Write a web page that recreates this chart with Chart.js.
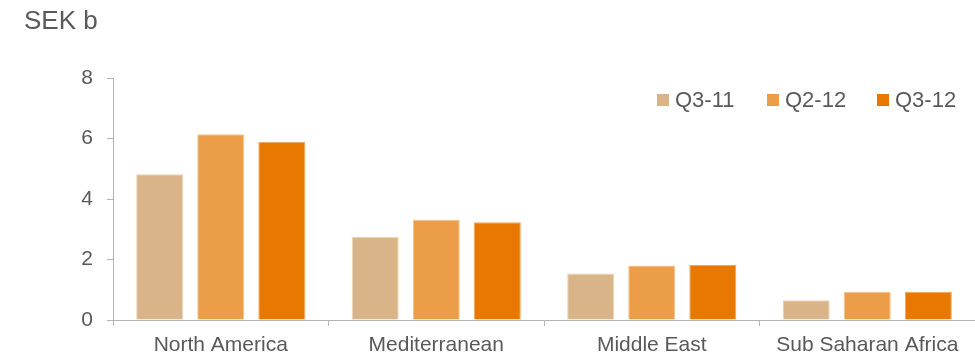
<!DOCTYPE html>
<html>
<head>
<meta charset="utf-8">
<script src="https://cdn.jsdelivr.net/npm/chart.js@4.4.0/dist/chart.umd.min.js"></script>
<style>
  html, body { margin: 0; padding: 0; background: #fff; overflow: hidden; }
  #wrap { width: 975px; height: 357px; position: relative; }
</style>
</head>
<body>
<div id="wrap"><canvas id="chart"></canvas></div>
<script>
// values (SEK b)
var regions = ['North America', 'Mediterranean', 'Middle East', 'Sub Saharan Africa'];
var q311 = [4.82, 2.74, 1.54, 0.65];
var q212 = [6.14, 3.31, 1.80, 0.93];
var q312 = [5.89, 3.23, 1.82, 0.93];
var seriesNames = ['Q3-11', 'Q2-12', 'Q3-12'];
var yTicks = [0, 2, 4, 6, 8];

var fontName = '"Liberation Sans", Arial, sans-serif';
var textColor = '#595959';
var axisColor = '#b3b3b3';

var fills = ['#d8b488', '#eb9d48', '#e87800'];
var edges = ['#ebd4b6', '#f5c28a', '#f3a552'];

// title + in-plot legend
var decor = {
  id: 'decor',
  afterDraw: function(chart) {
    var c = chart.ctx;
    c.save();
    c.fillStyle = textColor;
    c.textBaseline = 'alphabetic';
    c.textAlign = 'left';
    c.font = '26px ' + fontName;
    c.fillText('SEK b', 24, 29);

    c.font = '22px ' + fontName;
    c.textBaseline = 'middle';
    var x0 = chart.chartArea.right - 318;
    chart.data.datasets.forEach(function(ds, i) {
      var x = x0 + i * 110;
      c.fillStyle = ds.backgroundColor;
      c.fillRect(x, 94, 12, 12);
      c.fillStyle = textColor;
      c.fillText(ds.label, x + 18, 101);
    });
    c.restore();
  }
};

var config = {
  type: 'bar',
  data: {
    labels: regions,
    datasets: [
      { label: seriesNames[0], data: q311, backgroundColor: fills[0], borderColor: edges[0] },
      { label: seriesNames[1], data: q212, backgroundColor: fills[1], borderColor: edges[1] },
      { label: seriesNames[2], data: q312, backgroundColor: fills[2], borderColor: edges[2] }
    ]
  },
  options: {
    responsive: true,
    maintainAspectRatio: false,
    animation: false,
    layout: { padding: { top: 78, left: 80, right: 0, bottom: 0 } },
    datasets: {
      bar: {
        categoryPercentage: 0.85,
        barPercentage: 0.77,
        borderWidth: 1
      }
    },
    plugins: {
      legend: { display: false },
      title: { display: false },
      tooltip: { enabled: false }
    },
    scales: {
      x: {
        afterFit: function(scale) { scale.height = 37; },
        grid: {
          offset: true,
          drawOnChartArea: false,
          drawTicks: true,
          tickLength: 6,
          color: axisColor
        },
        border: { color: axisColor, width: 1 },
        ticks: {
          color: textColor,
          padding: 7,
          font: { family: fontName, size: 21 },
          maxRotation: 0,
          autoSkip: false
        }
      },
      y: {
        min: 0,
        max: 8,
        afterFit: function(scale) { scale.width = 33; },
        afterBuildTicks: function(scale) {
          scale.ticks = yTicks.map(function(v) { return { value: v }; });
        },
        grid: {
          drawOnChartArea: false,
          drawTicks: true,
          tickLength: 6,
          color: axisColor
        },
        border: { color: axisColor, width: 1 },
        ticks: {
          color: textColor,
          padding: 14,
          font: { family: fontName, size: 21 }
        }
      }
    }
  },
  plugins: [decor]
};

var myChart = new Chart(document.getElementById('chart'), config);
</script>
</body>
</html>
